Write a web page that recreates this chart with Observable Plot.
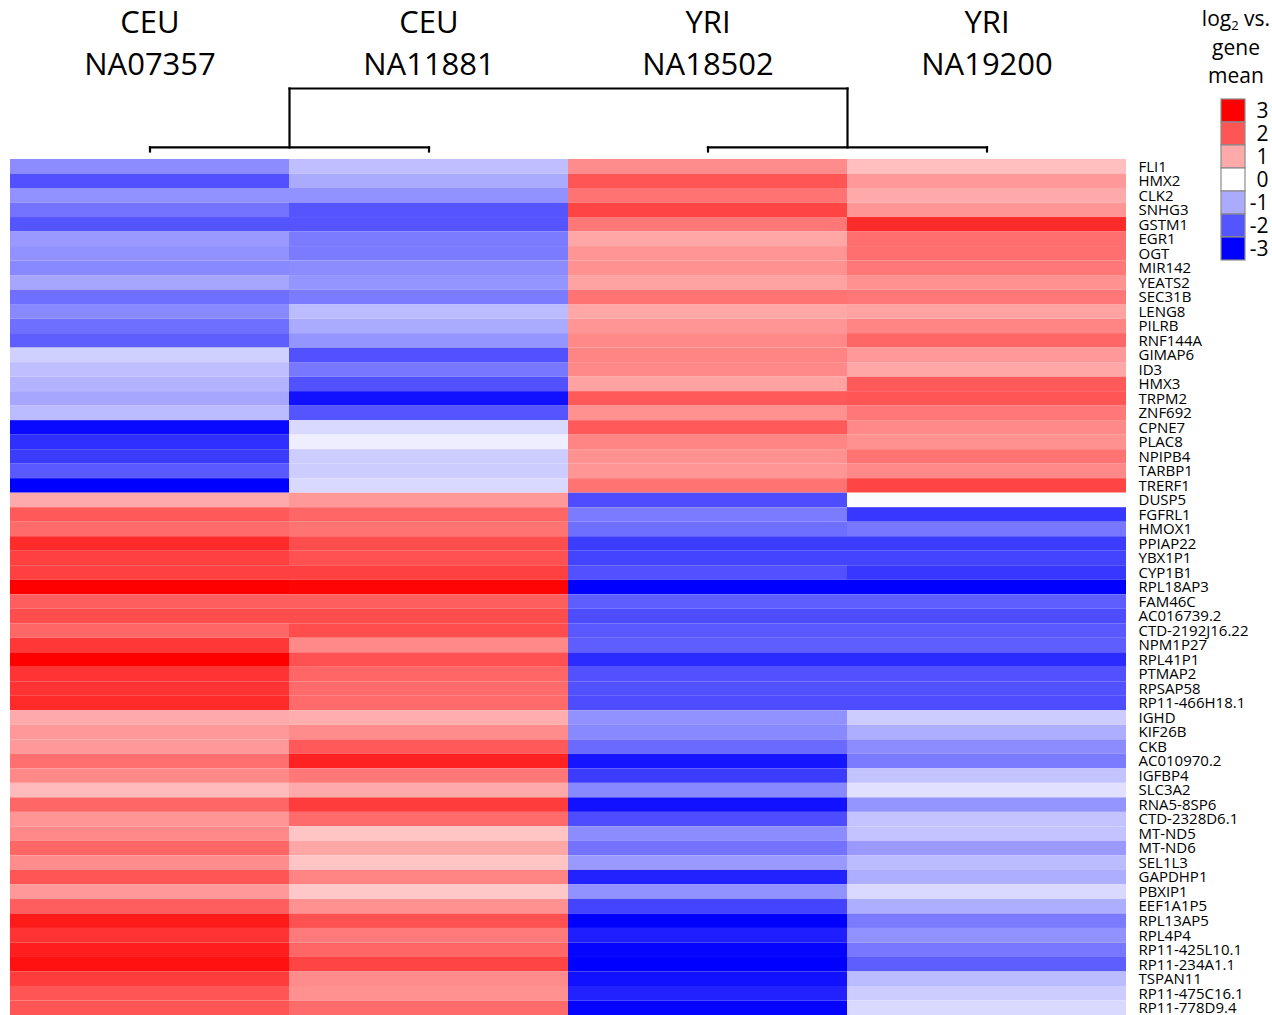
<!DOCTYPE html>
<html>
<head>
<meta charset="utf-8">
<script src="https://cdn.jsdelivr.net/npm/d3@7"></script>
<script src="https://cdn.jsdelivr.net/npm/@observablehq/plot@0.6"></script>
<style>
  html, body { margin: 0; padding: 0; background: #fff; }
  #wrap { position: relative; width: 1272px; height: 1015px; overflow: hidden; font-family: "Open Sans", sans-serif; }
  #top { position: absolute; left: 0; top: 0; }
  #heat { position: absolute; left: 0; top: 149px; }
  #legend { position: absolute; left: 1190px; top: 0; }
  #ltitle { position: absolute; left: 1196px; top: 4px; width: 80px; text-align: center; font-size: 21px; line-height: 28.5px; color: #000; }
  #ltitle sub { font-size: 13px; vertical-align: -4px; line-height: 0; }
  svg { display: block; }
</style>
</head>
<body>
<div id="wrap">
  <div id="top"></div>
  <div id="heat"></div>
  <div id="legend"></div>
  <div id="ltitle">log<sub>2</sub> vs.<br>gene<br>mean</div>
</div>
<script>
// ---- Data ----
const samples = ["NA07357", "NA11881", "NA18502", "NA19200"];
const populations = ["CEU", "CEU", "YRI", "YRI"];

const genes = [
  "FLI1", "HMX2", "CLK2", "SNHG3", "GSTM1", "EGR1", "OGT", "MIR142", "YEATS2", "SEC31B",
  "LENG8", "PILRB", "RNF144A", "GIMAP6", "ID3", "HMX3", "TRPM2", "ZNF692", "CPNE7", "PLAC8",
  "NPIPB4", "TARBP1", "TRERF1", "DUSP5", "FGFRL1", "HMOX1", "PPIAP22", "YBX1P1", "CYP1B1", "RPL18AP3",
  "FAM46C", "AC016739.2", "CTD-2192J16.22", "NPM1P27", "RPL41P1", "PTMAP2", "RPSAP58", "RP11-466H18.1", "IGHD", "KIF26B",
  "CKB", "AC010970.2", "IGFBP4", "SLC3A2", "RNA5-8SP6", "CTD-2328D6.1", "MT-ND5", "MT-ND6", "SEL1L3", "GAPDHP1",
  "PBXIP1", "EEF1A1P5", "RPL13AP5", "RPL4P4", "RP11-425L10.1", "RP11-234A1.1", "TSPAN11", "RP11-475C16.1", "RP11-778D9.4"
];

// log2 expression vs. gene mean, one array per sample (same order as genes)
const valuesNA07357 = [
  -1.35, -2.05, -1.3, -1.65, -2.0, -1.2, -1.3, -1.4, -1.05, -1.7,
  -1.4, -1.7, -1.9, -0.55, -0.75, -0.9, -1.05, -0.8, -2.9, -2.45,
  -2.3, -1.95, -3.0, 1.0, 1.95, 1.75, 2.5, 2.25, 2.25, 3.0,
  1.9, 2.1, 1.8, 2.35, 3.0, 2.4, 2.4, 2.5, 1.0, 1.2,
  1.2, 1.7, 1.4, 0.8, 1.8, 1.25, 1.4, 1.8, 1.35, 2.0,
  1.2, 1.9, 2.7, 2.4, 2.65, 2.8, 2.3, 2.0, 2.0
];
const valuesNA11881 = [
  -0.75, -1.0, -1.3, -2.0, -2.0, -1.55, -1.55, -1.35, -1.25, -1.55,
  -0.8, -1.0, -1.25, -2.05, -1.6, -2.05, -2.8, -2.0, -0.45, -0.2,
  -0.6, -0.6, -0.45, 1.2, 1.8, 1.65, 2.1, 2.05, 2.25, 2.95,
  1.9, 2.1, 2.1, 1.4, 2.05, 1.8, 1.75, 1.75, 0.95, 1.35,
  1.95, 2.6, 1.6, 1.0, 2.3, 1.75, 0.7, 1.05, 0.7, 1.45,
  0.65, 1.3, 2.05, 1.55, 1.8, 2.2, 1.35, 1.3, 1.75
];
const valuesNA18502 = [
  1.35, 2.0, 1.65, 2.2, 1.6, 1.05, 1.25, 1.3, 1.1, 1.65,
  1.05, 1.25, 1.4, 1.45, 1.4, 1.1, 1.95, 1.3, 1.95, 1.45,
  1.3, 1.25, 1.65, -2.1, -1.55, -1.7, -2.3, -2.2, -2.05, -3.0,
  -1.9, -2.1, -1.95, -1.9, -2.5, -2.05, -2.05, -2.1, -1.3, -1.4,
  -1.75, -2.75, -2.3, -1.4, -2.8, -2.1, -1.35, -1.65, -1.2, -2.6,
  -1.3, -2.2, -3.0, -2.65, -2.95, -3.0, -2.8, -2.6, -2.95
];
const valuesNA19200 = [
  0.75, 1.2, 1.0, 1.25, 2.5, 1.7, 1.7, 1.6, 1.3, 1.6,
  1.1, 1.45, 1.8, 1.2, 1.05, 1.95, 2.0, 1.6, 1.4, 1.3,
  1.65, 1.4, 2.2, -0.05, -2.35, -1.6, -2.3, -2.2, -2.35, -3.0,
  -1.9, -2.1, -1.95, -1.9, -2.5, -2.05, -2.05, -2.1, -0.6, -0.95,
  -1.35, -1.55, -0.7, -0.35, -1.25, -0.7, -0.7, -1.2, -0.8, -0.95,
  -0.45, -0.95, -1.55, -1.3, -1.6, -1.9, -0.8, -0.6, -0.45
];

// Dendrogram over samples: merge i joins mergeLeft[i] and mergeRight[i] at mergeHeight[i]
const mergeNames = ["m1", "m2", "m3"];
const mergeLeft = ["NA07357", "NA18502", "m1"];
const mergeRight = ["NA11881", "NA19200", "m2"];
const mergeHeight = [0.065, 0.065, 1.0];

// Legend
const legendValues = [3, 2, 1, 0, -1, -2, -3];

// ---- Shared settings ----
const colorScale = {
  type: "linear",
  domain: [-3, 0, 3],
  range: ["#0000ff", "#ffffff", "#ff0000"],
  interpolate: "rgb",
  clamp: true
};
const fontFamily = "'Open Sans', sans-serif";

// ---- Heatmap table ----
const sampleValues = [valuesNA07357, valuesNA11881, valuesNA18502, valuesNA19200];
const table = [];
samples.forEach((s, si) => {
  genes.forEach((g, gi) => {
    table.push({sample: s, gene: g, value: sampleValues[si][gi]});
  });
});

// ---- Dendrogram layout (from the merge arrays) ----
const nodes = new Map();
samples.forEach((s, i) => nodes.set(s, {x: i, h: 0}));
mergeNames.forEach((m, i) => {
  const a = nodes.get(mergeLeft[i]), b = nodes.get(mergeRight[i]);
  nodes.set(m, {x: (a.x + b.x) / 2, h: mergeHeight[i]});
});
const segments = [];
mergeNames.forEach((m, i) => {
  const a = nodes.get(mergeLeft[i]), b = nodes.get(mergeRight[i]), h = mergeHeight[i];
  segments.push({x1: a.x, y1: a.h, x2: a.x, y2: h});
  segments.push({x1: b.x, y1: b.h, x2: b.x, y2: h});
  segments.push({x1: a.x, y1: h, x2: b.x, y2: h});
});

// ---- Top: sample headers + dendrogram ----
const headers = samples.map((s, i) => ({i, label: populations[i] + "\n" + s}));
const topPlot = Plot.plot({
  width: 1272,
  height: 159,
  marginLeft: 10,
  marginRight: 146,
  marginTop: 0,
  marginBottom: 0,
  style: {fontFamily, background: "transparent"},
  x: {type: "linear", domain: [-0.5, samples.length - 0.5], axis: null},
  y: {type: "linear", domain: [0, 1], range: [151, 88], axis: null},
  marks: [
    Plot.link(segments, {x1: "x1", y1: "y1", x2: "x2", y2: "y2", stroke: "#000", strokeWidth: 2.2, strokeLinecap: "square"}),
    Plot.text(headers, {
      x: "i",
      frameAnchor: "top",
      text: "label",
      lineAnchor: "top",
      lineHeight: 1.37,
      dy: 2,
      fontSize: 31,
      fill: "#000"
    })
  ]
});
document.getElementById("top").appendChild(topPlot);

// ---- Heatmap ----
const heat = Plot.plot({
  width: 1272,
  height: 866,
  marginLeft: 10,
  marginRight: 146,
  marginTop: 10,
  marginBottom: 0,
  style: {fontFamily, background: "transparent"},
  x: {domain: samples, padding: 0, axis: null},
  y: {domain: genes, padding: 0, axis: null},
  color: colorScale,
  marks: [
    Plot.cell(table, {x: "sample", y: "gene", fill: "value", inset: 0}),
    Plot.axisY({anchor: "right", tickSize: 0, tickPadding: 12, fontSize: 15, label: null, fill: "#000", lineHeight: 1})
  ]
});
document.getElementById("heat").appendChild(heat);

// ---- Legend ----
const legend = Plot.plot({
  width: 82,
  height: 270,
  marginLeft: 31,
  marginRight: 27,
  marginTop: 0,
  marginBottom: 0,
  style: {fontFamily, background: "transparent"},
  x: {axis: null},
  y: {domain: legendValues, range: [96, 263], padding: 0, axis: null},
  color: colorScale,
  marks: [
    Plot.cell(legendValues, {y: d => d, fill: d => d, stroke: "#8c8c8c", strokeWidth: 1.2}),
    Plot.text(legendValues, {y: d => d, text: d => String(d), frameAnchor: "right", textAnchor: "end", dx: 23, fontSize: 21, fill: "#000"})
  ]
});
document.getElementById("legend").appendChild(legend);
</script>
</body>
</html>
